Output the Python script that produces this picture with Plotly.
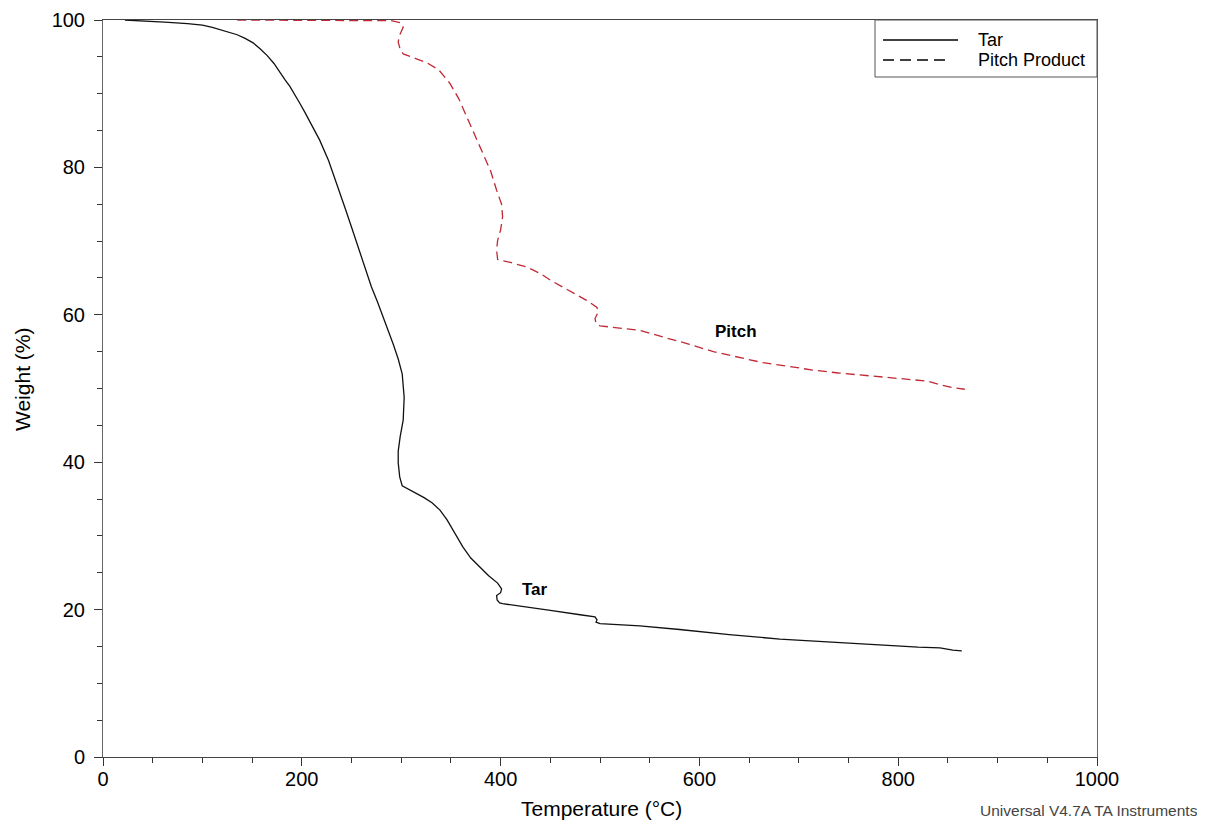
import plotly.graph_objects as go

# ---- Data ----
tar_temp = [22, 40, 62, 85, 100, 110, 118, 127, 135, 143, 151, 158, 165, 172, 178, 183, 188, 193,
            198, 203, 208, 213, 218, 227, 235, 243, 251, 261, 270, 276, 284, 292, 297, 301, 303,
            302, 299, 297, 297, 298.5, 301, 308, 316, 323, 331, 339, 346, 354, 362, 370, 379, 388,
            397, 401, 400, 396, 396.5, 399, 402, 420, 450, 480, 495, 497, 496, 500, 540, 580, 630,
            681, 730, 782, 820, 842, 855, 864]
tar_weight = [100, 99.9, 99.7, 99.5, 99.3, 99.0, 98.7, 98.4, 98.0, 97.5, 96.9, 96.1, 95.2, 94.1,
              92.8, 91.9, 91.0, 89.9, 88.7, 87.5, 86.3, 85.0, 83.7, 80.9, 77.9, 74.7, 71.5, 67.5,
              63.8, 61.8, 59.0, 56.0, 54.0, 52.0, 48.8, 45.7, 43.5, 41.5, 39.9, 38.0, 36.8, 36.3,
              35.8, 35.2, 34.5, 33.5, 32.2, 30.4, 28.5, 27.0, 25.8, 24.6, 23.6, 22.8, 22.3, 21.9,
              21.3, 20.9, 20.8, 20.5, 19.9, 19.3, 19.0, 18.6, 18.3, 18.1, 17.8, 17.3, 16.6, 16.0,
              15.6, 15.2, 14.9, 14.8, 14.5, 14.4]

pitch_temp = [135, 200, 260, 290, 300, 302, 298, 297, 299, 302, 314, 326, 338, 349, 358, 366, 374,
              382, 390, 396, 401, 402, 400, 397, 396, 397, 410, 426, 440, 450, 462, 473, 486, 497,
              498, 495, 496, 500, 513, 540, 563, 590, 614, 640, 664, 690, 714, 740, 765, 790, 815,
              830, 842, 855, 867]
pitch_weight = [100, 100, 100, 99.9, 99.6, 99.0, 97.8, 97.0, 96.0, 95.4, 94.8, 94.2, 93.2, 91.4,
                89.3, 86.8, 84.5, 82.0, 79.5, 76.9, 75.0, 73.3, 71.5, 70.1, 68.8, 67.5, 67.1, 66.5,
                65.6, 64.7, 63.8, 63.0, 62.0, 61.0, 60.3, 59.5, 58.8, 58.5, 58.3, 57.9, 57.0, 56.0,
                55.0, 54.2, 53.5, 53.0, 52.5, 52.1, 51.8, 51.5, 51.2, 51.0, 50.5, 50.1, 49.9]

series_names = ["Tar", "Pitch Product"]
curve_labels = ["Tar", "Pitch"]
label_pos_temp = [435, 637]
label_pos_weight = [22.7, 57.7]

x_ticks = [0, 200, 400, 600, 800, 1000]
y_ticks = [0, 20, 40, 60, 80, 100]
x_title = "Temperature (°C)"
y_title = "Weight (%)"
footer = "Universal V4.7A TA Instruments"

FONT = "Arial, Liberation Sans, Helvetica, sans-serif"
RED = "rgb(192,40,52)"

fig = go.Figure()
fig.add_trace(go.Scatter(x=tar_temp, y=tar_weight, mode="lines", name=series_names[0],
                         line=dict(color="#111111", width=1.3), showlegend=False))
fig.add_trace(go.Scatter(x=pitch_temp, y=pitch_weight, mode="lines", name=series_names[1],
                         line=dict(color=RED, width=1.3, dash="9px,5px"), showlegend=False))

for txt, xv, yv in zip(curve_labels, label_pos_temp, label_pos_weight):
    fig.add_annotation(x=xv, y=yv, text="<b>%s</b>" % txt, showarrow=False,
                       font=dict(family=FONT, size=17, color="black"))

# ---- page geometry (window pixels; page body has an 8px margin) ----
OFF = 8
W_, H_ = 1205 - OFF, 825 - OFF
L, R, T, B = 103, 1097, 20, 757   # plot area in window pixels

def px2x(px):
    return (px - L) / (R - L)

def py2y(py):
    return (B - py) / (B - T)

# manual legend box (samples drawn in black as in the reference)
fig.add_shape(type="rect", xref="paper", yref="paper",
              x0=px2x(875), x1=px2x(1097), y0=py2y(77), y1=py2y(20),
              line=dict(color="#555555", width=1), fillcolor="white", layer="above")
fig.add_shape(type="line", xref="paper", yref="paper",
              x0=px2x(883), x1=px2x(958), y0=py2y(40), y1=py2y(40),
              line=dict(color="black", width=1.5))
fig.add_shape(type="line", xref="paper", yref="paper",
              x0=px2x(883), x1=px2x(945), y0=py2y(60), y1=py2y(60),
              line=dict(color="black", width=1.5, dash="11px,6px"))
for txt, py in zip(series_names, [40, 60]):
    fig.add_annotation(xref="paper", yref="paper", x=px2x(976), y=py2y(py), text=txt,
                       showarrow=False, xanchor="left", yanchor="middle",
                       font=dict(family=FONT, size=18, color="black"))

# axis titles and footer
fig.add_annotation(xref="paper", yref="paper", x=px2x(601), y=py2y(808), text=x_title,
                   showarrow=False, xanchor="center", yanchor="middle",
                   font=dict(family=FONT, size=21, color="black"))
fig.add_annotation(xref="paper", yref="paper", x=px2x(22), y=py2y(380), text=y_title,
                   showarrow=False, xanchor="center", yanchor="middle", textangle=-90,
                   font=dict(family=FONT, size=21, color="black"))
fig.add_annotation(xref="paper", yref="paper", x=px2x(1200), y=py2y(810), text=footer,
                   showarrow=False, xanchor="right", yanchor="middle",
                   font=dict(family=FONT, size=15.5, color="#444444"))

fig.update_layout(
    width=W_, height=H_,
    margin=dict(l=L - OFF, r=W_ - (R - OFF), t=T - OFF, b=H_ - (B - OFF), autoexpand=False),
    paper_bgcolor="white", plot_bgcolor="white",
    font=dict(family=FONT, color="black"),
)
fig.update_xaxes(range=[0, 1000], tickvals=x_ticks, ticks="outside", ticklen=8, tickwidth=1,
                 tickcolor="#333", showgrid=False, zeroline=False, showline=True,
                 linecolor="#444", linewidth=1, mirror=True,
                 minor=dict(dtick=50, ticks="outside", ticklen=5, tickcolor="#333", showgrid=False),
                 tickfont=dict(size=20, family=FONT), ticklabelstandoff=-4)
fig.update_yaxes(range=[0, 100], tickvals=y_ticks, ticks="outside", ticklen=8, tickwidth=1,
                 tickcolor="#333", showgrid=False, zeroline=False, showline=True,
                 linecolor="#666", linewidth=1, mirror=True,
                 minor=dict(dtick=5, ticks="outside", ticklen=5, tickcolor="#333", showgrid=False),
                 tickfont=dict(size=20, family=FONT), ticklabelstandoff=5)

fig.write_html("out.html")
